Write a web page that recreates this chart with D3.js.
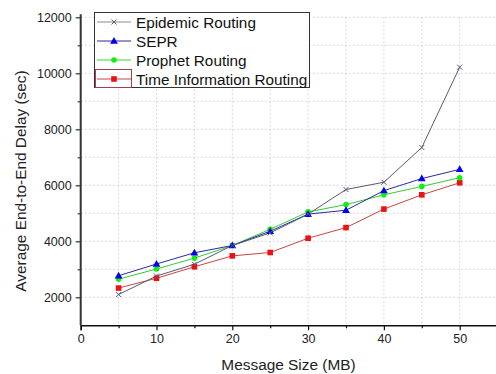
<!DOCTYPE html>
<html><head><meta charset="utf-8">
<script src="https://cdn.jsdelivr.net/npm/d3@7"></script>
<style>body{margin:0;background:#fff;}svg{display:block;font-family:"Liberation Sans",Arial,sans-serif;}</style>
</head><body>
<svg id="c" width="496" height="374"></svg>
<script>
const messageSize = [5,10,15,20,25,30,35,40,45,50];
const epidemic = [2100,2760,3180,3850,4300,4970,5850,6110,7350,10220];
const sepr     = [2770,3190,3590,3850,4360,4970,5110,5810,6240,6570];
const prophet  = [2650,3010,3400,3850,4430,5050,5310,5660,5960,6270];
const timeInfo = [2330,2680,3090,3480,3600,4110,4490,5150,5660,6090];
const seriesNames = ["Epidemic Routing","SEPR","Prophet Routing","Time Information Routing"];
const xTicks = [0,10,20,30,40,50];
const yTicks = [2000,4000,6000,8000,10000,12000];

const svg = d3.select("#c");
const x = d3.scaleLinear().domain([0,55]).range([80.7,497.6]);
const y = d3.scaleLinear().domain([1000,12000]).range([325.3,17.3]);

// grid
const g = svg.append("g");
g.selectAll("line.gx").data(d3.range(5,55,5)).join("line")
 .attr("x1",d=>x(d)).attr("x2",d=>x(d)).attr("y1",y(12000)).attr("y2",y(1000))
 .attr("stroke","#cfcfcf").attr("stroke-width",0.8).attr("stroke-dasharray","2,2");
g.selectAll("line.gy").data(d3.range(2000,12001,1000)).join("line")
 .attr("y1",d=>y(d)).attr("y2",d=>y(d)).attr("x1",x(0)).attr("x2",497)
 .attr("stroke","#cfcfcf").attr("stroke-width",0.8).attr("stroke-dasharray","2,2");

// axes
const xAxis = d3.axisBottom(x).tickValues(xTicks).tickSize(5).tickPadding(4).tickFormat(d3.format("d"));
const gx = svg.append("g").attr("transform",`translate(0,${y(1000)})`).call(xAxis);
gx.select(".domain").attr("stroke","#111").attr("stroke-width",1.6);
gx.selectAll(".tick line").attr("stroke","#111").attr("stroke-width",1.2);
gx.selectAll("text").attr("font-size",12.5).attr("fill","#222").attr("font-family","Liberation Sans, Arial, sans-serif");
const xMinor = d3.axisBottom(x).tickValues(d3.range(5,55,10)).tickSize(3).tickFormat("");
const gxm = svg.append("g").attr("transform",`translate(0,${y(1000)})`).call(xMinor);
gxm.select(".domain").remove();
gxm.selectAll(".tick line").attr("stroke","#111").attr("stroke-width",1.2);

const yAxis = d3.axisLeft(y).tickValues(yTicks).tickSize(5).tickPadding(4).tickFormat(d3.format("d"));
const gy = svg.append("g").attr("transform",`translate(${x(0)},0)`).call(yAxis);
gy.select(".domain").attr("stroke","#333").attr("stroke-width",2).attr("d",`M0,${y(1000)}V${y(12000)-3}`);
gy.selectAll(".tick line").attr("stroke","#333").attr("stroke-width",1.2);
gy.selectAll("text").attr("font-size",12.5).attr("fill","#222").attr("font-family","Liberation Sans, Arial, sans-serif");
const yMinor = d3.axisLeft(y).tickValues(d3.range(3000,12000,2000)).tickSize(3).tickFormat("");
const gym = svg.append("g").attr("transform",`translate(${x(0)},0)`).call(yMinor);
gym.select(".domain").remove();
gym.selectAll(".tick line").attr("stroke","#333").attr("stroke-width",1.2);

// axis titles
svg.append("text").attr("x",288.5).attr("y",370).attr("text-anchor","middle")
 .attr("font-size",15.4).attr("fill","#222").text("Message Size (MB)");
svg.append("text").attr("transform","translate(26,181) rotate(-90)").attr("text-anchor","middle")
 .attr("font-size",15.4).attr("fill","#222").text("Average End-to-End Delay (sec)");

// series
const series = [
 {name:seriesNames[0], values:epidemic, line:"#5a5a78", marker:"cross", mcol:"#5a5a78", legLine:"#8a8a9a"},
 {name:seriesNames[1], values:sepr, line:"#2a2aa0", marker:"tri", mcol:"#0000ee", legLine:"#2a2aa0"},
 {name:seriesNames[2], values:prophet, line:"#33cc33", marker:"circ", mcol:"#11ee11", legLine:"#33dd33"},
 {name:seriesNames[3], values:timeInfo, line:"#cc4444", marker:"sq", mcol:"#ee1111", legLine:"#cc4444"}
];
const lineGen = d3.line().x(d=>x(d[0])).y(d=>y(d[1]));
function drawMarker(sel, type, col, cx, cy){
  if(type==="cross"){
    const s=2.5;
    sel.append("path").attr("d",`M${cx-s},${cy-s}L${cx+s},${cy+s}M${cx-s},${cy+s}L${cx+s},${cy-s}`)
      .attr("stroke",col).attr("stroke-width",1).attr("fill","none");
  } else if(type==="tri"){
    sel.append("path").attr("d",d3.symbol().type(d3.symbolTriangle).size(26)()).attr("transform",`translate(${cx},${cy+0.5})`).attr("fill",col);
  } else if(type==="circ"){
    sel.append("circle").attr("cx",cx).attr("cy",cy).attr("r",2.8).attr("fill",col);
  } else {
    sel.append("rect").attr("x",cx-2.8).attr("y",cy-2.8).attr("width",5.6).attr("height",5.6).attr("fill",col);
  }
}
const order = [3,2,1,0];
order.forEach(i=>{
  const s = series[i];
  const pts = messageSize.map((m,k)=>[m,s.values[k]]);
  svg.append("path").datum(pts).attr("d",lineGen).attr("fill","none").attr("stroke",s.line).attr("stroke-width",1);
});
order.forEach(i=>{
  const s = series[i];
  const gm = svg.append("g");
  messageSize.forEach((m,k)=>drawMarker(gm, s.marker, s.mcol, x(m), y(s.values[k])));
});

// legend
const lg = svg.append("g");
lg.append("rect").attr("x",94.5).attr("y",12.5).attr("width",215).attr("height",75)
  .attr("fill","#fff").attr("stroke","#333").attr("stroke-width",1);
series.forEach((s,i)=>{
  const cy = 22 + i*19;
  lg.append("line").attr("x1",97).attr("x2",131).attr("y1",cy).attr("y2",cy).attr("stroke",s.legLine).attr("stroke-width",1.2);
  drawMarker(lg, s.marker, s.mcol, 114, cy);
  lg.append("text").attr("x",136).attr("y",cy+5.5).attr("font-size",15.3).attr("fill","#111").text(s.name);
});
lg.append("rect").attr("x",95.5).attr("y",69.5).attr("width",36).attr("height",18)
  .attr("fill","none").attr("stroke","#a04050").attr("stroke-width",1);
</script>
</body></html>
